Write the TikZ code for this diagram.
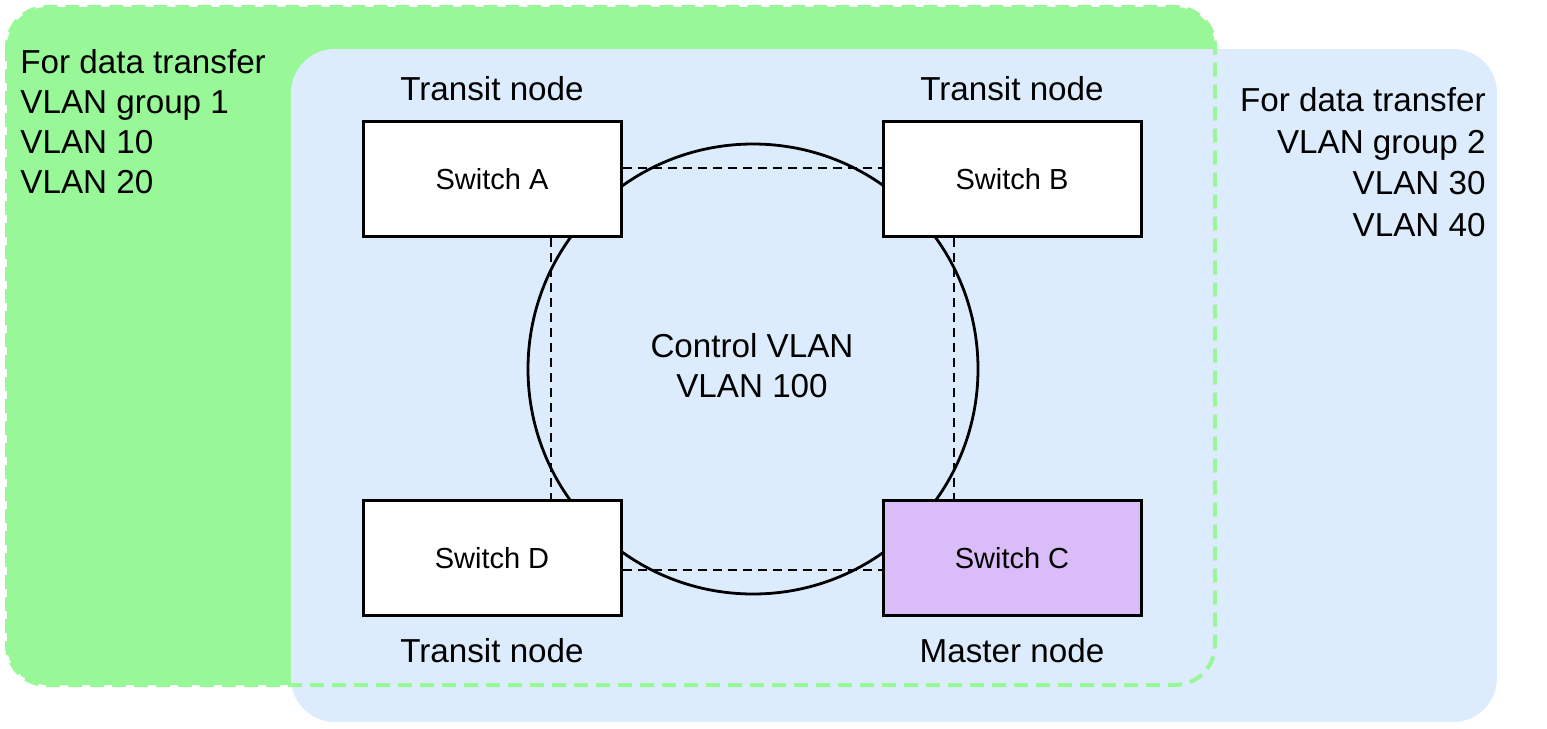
\documentclass[tikz,border=0pt]{standalone}
\usepackage{fontspec}
\setmainfont{Liberation Sans}
\usepackage{tikz}
\usetikzlibrary{positioning}
\definecolor{VlanGreen}{HTML}{98F898}
\definecolor{VlanBlue}{HTML}{DCECFD}
\definecolor{MasterPurple}{HTML}{DABCF8}

\begin{document}
\begin{tikzpicture}[x=0.5pt, y=-0.5pt,
                    switchbox/.style={draw=black, line width=1.5pt, fill=white, inner sep=0pt,
                                      minimum width=129pt, minimum height=57.5pt,
                                      font=\fontsize{14.5}{17}\selectfont},
                    roletext/.style={inner sep=0pt, font=\fontsize{16.6}{20}\selectfont},
                    link/.style={draw=black, line width=1.4pt, dash pattern=on 4.5pt off 3pt}]
\useasboundingbox (0,0) rectangle (1547,728);
% VLAN group areas
\fill[VlanGreen, rounded corners=20pt] (7,7) rectangle (1215,685);
\fill[VlanBlue, rounded corners=22pt] (291,49) rectangle (1497,722);
\draw[VlanGreen, line width=2pt, dash pattern=on 7pt off 4pt, rounded corners=20pt] (7,7) rectangle (1215,685);
% control ring
\node[circle, draw=black, line width=1.4pt, minimum size=225pt, inner sep=0pt] (ring) at (753,369) {};
\node[roletext, align=center] (ctrl) at (752,366) {Control VLAN\\VLAN 100};
% switches
\node[switchbox] (swA) at (492,179) {Switch A};
\node[switchbox, right=129.5pt of swA] (swB) {Switch B};
\node[switchbox, below=130.5pt of swA] (swD) {Switch D};
\node[switchbox, fill=MasterPurple, below=130.5pt of swB] (swC) {Switch C};
\draw[link] ([yshift=5.5pt]swA.east) -- ([yshift=5.5pt]swB.west);
\draw[link] ([xshift=29.5pt]swA.south) -- ([xshift=29.5pt]swD.north);
\draw[link] ([xshift=-29pt]swB.south) -- ([xshift=-29pt]swC.north);
\draw[link] ([yshift=-6pt]swD.east) -- ([yshift=-6pt]swC.west);
% node roles
\node[roletext, above=9.5pt of swA] (roleA) {Transit node};
\node[roletext, above=9.5pt of swB] (roleB) {Transit node};
\node[roletext, below=10.5pt of swD] (roleD) {Transit node};
\node[roletext, below=10.5pt of swC] (roleC) {Master node};
% data VLAN groups
\node[roletext, anchor=north west, align=left] (grp1) at (20,49) {For data transfer\\VLAN group 1\\VLAN 10\\VLAN 20};
\node[roletext, anchor=north east, align=right, font=\fontsize{16.6}{20.8}\selectfont] (grp2) at (1486,87) {For data transfer\\VLAN group 2\\VLAN 30\\VLAN 40};
\end{tikzpicture}
\end{document}
